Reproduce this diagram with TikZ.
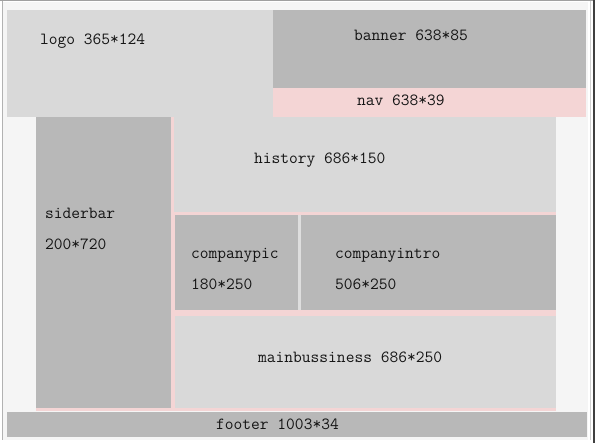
\documentclass[tikz,border=0pt]{standalone}
\definecolor{boxdark}{RGB}{184,184,184}
\definecolor{boxlight}{RGB}{217,217,217}
\definecolor{pinkfill}{RGB}{244,213,213}
\definecolor{pagebg}{RGB}{245,245,245}
\definecolor{gapgray}{RGB}{222,222,222}
\definecolor{framegray}{RGB}{160,160,160}
\definecolor{textcol}{RGB}{20,20,20}
\tikzset{
  area/.style={inner sep=0pt, outer sep=0pt, anchor=north west},
  darkbox/.style={area, fill=boxdark},
  lightbox/.style={area, fill=boxlight},
  pinkbox/.style={area, fill=pinkfill},
  lbl/.style={inner sep=0pt, anchor=base west, text=textcol,
    font=\fontsize{17}{20}\selectfont\ttfamily}
}
\begin{document}
\begin{tikzpicture}[x=1pt, y=-1pt]
\useasboundingbox (0,0) rectangle (595,443);
\fill[white] (0,0) rectangle (595,443);
% page background and frame
\fill[pagebg] (3,2) rectangle (588,440);
\draw[framegray, line width=1.2pt] (0,0.6) -- (595,0.6);
\draw[gray!60, line width=0.8pt] (2,1) -- (2,440);
\draw[gray!35, line width=0.8pt] (590,1) -- (590,440);
\draw[black!75, line width=1.5pt] (594,0) -- (594,443);
% header
\node[lightbox, minimum width=266pt, minimum height=107pt] (logo) at (7,10) {};
\node[darkbox, minimum width=313pt, minimum height=78pt] (banner) at (273,10) {};
\node[pinkbox, minimum width=313pt, minimum height=29pt] (nav) at (273,88) {};
% main area pink frame
\node[pinkbox, minimum width=520pt, minimum height=294pt] (mainframe) at (36,117) {};
\node[darkbox, minimum width=135pt, minimum height=291pt] (siderbar) at (36,117) {};
\node[lightbox, minimum width=382pt, minimum height=95pt] (history) at (174,117) {};
\node[area, fill=gapgray, minimum width=381pt, minimum height=95pt] (picrow) at (175,215) {};
\node[darkbox, minimum width=123pt, minimum height=95pt] (companypic) at (175,215) {};
\node[darkbox, minimum width=255pt, minimum height=95pt] (companyintro) at (301,215) {};
\node[lightbox, minimum width=381pt, minimum height=92pt] (mainbussiness) at (175,316) {};
% footer
\node[darkbox, minimum width=580pt, minimum height=25pt] (footer) at (7,412) {};
% labels
\node[lbl] (tlogo) at (40,45) {logo 365*124};
\node[lbl] (tbanner) at (354,41) {banner 638*85};
\node[lbl] (tnav) at (357,106) {nav 638*39};
\node[lbl] (thistory) at (254,164) {history 686*150};
\node[lbl] (tsider1) at (45,219) {siderbar};
\node[lbl] (tsider2) at (45,250) {200*720};
\node[lbl] (tpic1) at (191,259) {companypic};
\node[lbl] (tpic2) at (191,290) {180*250};
\node[lbl] (tintro1) at (335,259) {companyintro};
\node[lbl] (tintro2) at (335,290) {506*250};
\node[lbl] (tmain) at (258,363) {mainbussiness 686*250};
\node[lbl] (tfooter) at (216,430) {footer 1003*34};
\end{tikzpicture}
\end{document}
